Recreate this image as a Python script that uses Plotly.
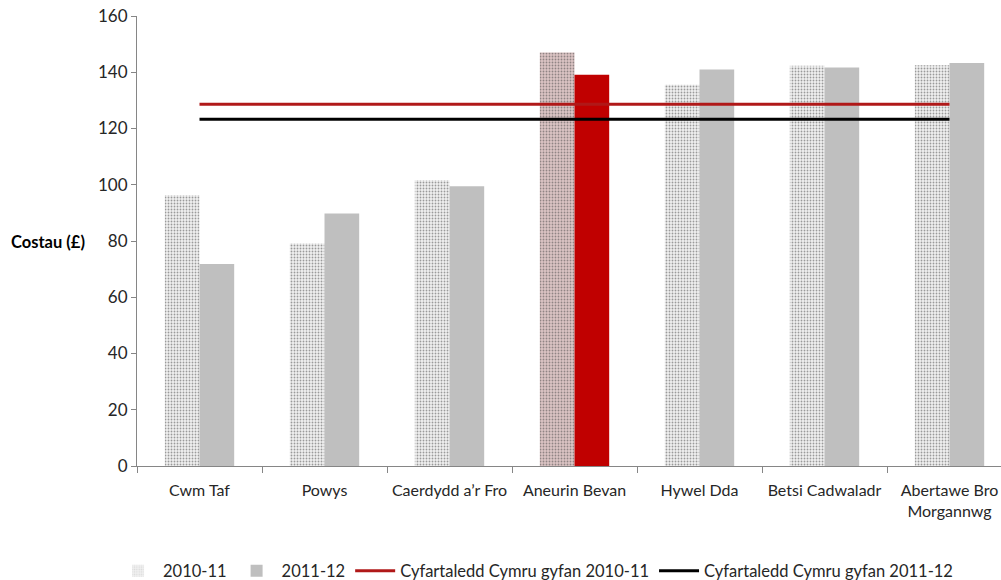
import plotly.graph_objects as go

categories = ["Cwm Taf", "Powys", "Caerdydd a\u2019r Fro", "Aneurin Bevan", "Hywel Dda",
              "Betsi Cadwaladr", "Abertawe Bro<br>Morgannwg"]
costs_2010_11 = [96.3, 79.1, 101.6, 147.0, 135.6, 142.3, 142.5]
costs_2011_12 = [71.8, 89.8, 99.5, 139.1, 141.0, 141.7, 143.3]
avg_wales_2010_11 = [128.6, 128.6, 128.6, 128.6, 128.6, 128.6, 128.6]
avg_wales_2011_12 = [123.3, 123.3, 123.3, 123.3, 123.3, 123.3, 123.3]
y_ticks = [0, 20, 40, 60, 80, 100, 120, 140, 160]

highlight = "Aneurin Bevan"
fg_2010 = ["#7a1a1a" if c == highlight else "#c2c2c2" for c in categories]
bg_2010 = ["#dcc4c4" if c == highlight else "#f1f1f1" for c in categories]
col_2011 = ["#c00000" if c == highlight else "#bfbfbf" for c in categories]

FONT = "Lato"
TXT = "#262626"
fig = go.Figure()
fig.add_trace(go.Bar(
    x=categories, y=costs_2010_11, name="2010-11",
    marker=dict(color=bg_2010, line=dict(width=0),
                pattern=dict(shape=".", fgcolor=fg_2010, bgcolor=bg_2010,
                             size=3, solidity=0.3, fillmode="overlay")),
))
fig.add_trace(go.Bar(
    x=categories, y=costs_2011_12, name="2011-12",
    marker=dict(color=col_2011, line=dict(width=0)),
))
fig.add_trace(go.Scatter(
    x=categories, y=avg_wales_2010_11, mode="lines",
    name="Cyfartaledd Cymru gyfan 2010-11",
    line=dict(color="#b01818", width=3),
))
fig.add_trace(go.Scatter(
    x=categories, y=avg_wales_2011_12, mode="lines",
    name="Cyfartaledd Cymru gyfan 2011-12",
    line=dict(color="#000000", width=3),
))

fig.update_layout(
    width=1001, height=580,
    margin=dict(l=137, r=0, t=16, b=114),
    paper_bgcolor="white", plot_bgcolor="white",
    barmode="group", bargap=0.445, bargroupgap=0,
    font=dict(family=FONT, size=16, color=TXT),
    showlegend=True,
    legend=dict(orientation="h", xref="container", yref="container",
                x=0.535, xanchor="center", y=1 - 571 / 580, yanchor="middle",
                font=dict(family=FONT, size=16.5, color=TXT),
                itemwidth=40, traceorder="normal"),
    xaxis=dict(
        type="category", range=[-0.5, 6.412],
        showline=True, linecolor="#868686", linewidth=1,
        ticks="outside", tickson="boundaries", ticklen=6, tickcolor="#868686",
        showgrid=False, automargin=False, tickangle=0, ticklabelstandoff=10,
        tickfont=dict(family=FONT, size=16, color=TXT),
    ),
    yaxis=dict(
        range=[0, 160], tickvals=y_ticks,
        showline=True, linecolor="#868686", linewidth=1,
        ticks="outside", ticklen=5, tickcolor="#868686",
        showgrid=False, zeroline=False, automargin=False,
        tickfont=dict(family=FONT, size=17, color=TXT),
    ),
    annotations=[dict(
        text="<b>Costau (£)</b>", xref="paper", yref="paper",
        x=-(137 - 48) / 864, y=(466 - 242) / 450, xanchor="center", yanchor="middle",
        showarrow=False, font=dict(family=FONT, size=16.5, color="#000000"),
    )],
)

fig.write_html(
    "out.html",
    config={"displayModeBar": False},
    post_script="document.body.style.margin='0';document.body.style.overflow='hidden';",
)
